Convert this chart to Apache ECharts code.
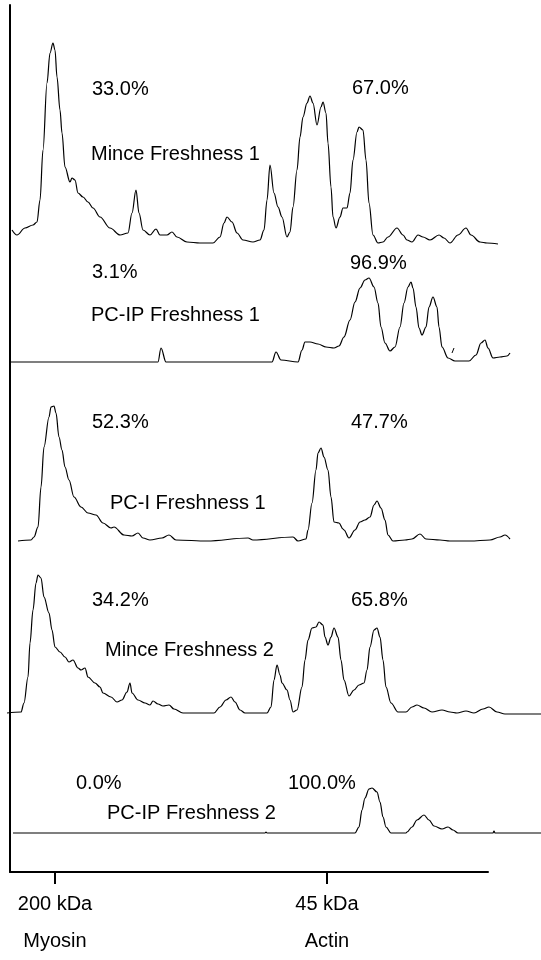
<!DOCTYPE html>
<html>
<head>
<meta charset="utf-8">
<script src="https://cdn.jsdelivr.net/npm/echarts@6/dist/echarts.min.js"></script>
<style>html,body{margin:0;padding:0;background:#fff}#chart{width:541px;height:960px}</style>
</head>
<body>
<div id="chart"></div>
<script>
// ---- data: densitometric traces, [mobility, intensity] ----
const sampleNames = ['Mince Freshness 1', 'PC-IP Freshness 1', 'PC-I Freshness 1', 'Mince Freshness 2', 'PC-IP Freshness 2'];
const myosinPct = ['33.0%', '3.1%', '52.3%', '34.2%', '0.0%'];
const actinPct = ['67.0%', '96.9%', '47.7%', '65.8%', '100.0%'];
const markerMobility = [55, 327];
const markerKda = ['200 kDa', '45 kDa'];
const markerProtein = ['Myosin', 'Actin'];

const minceF1 = [[12,13],[17,8],[25,15],[33,18],[37,21],[40,43],[43,93],[47,160],[50,190],[53,200],[55,193],[57,166],[60,133],[62,110],[65,76],[70,61],[72,65],[75,63],[78,50],[83,46],[88,41],[93,35],[100,26],[110,15],[120,8],[128,10],[132,30],[136,53],[139,30],[143,13],[150,8],[156,14],[160,8],[167,8],[172,11],[177,6],[187,1],[200,0],[213,0],[220,6],[224,20],[227,26],[232,21],[237,10],[243,3],[253,1],[260,3],[264,13],[267,43],[270,78],[274,50],[278,36],[282,26],[287,6],[290,11],[293,36],[297,73],[300,106],[303,126],[307,140],[310,147],[313,140],[317,118],[321,136],[323,141],[326,130],[328,100],[331,56],[333,26],[336,15],[340,26],[343,35],[347,35],[350,50],[353,83],[357,111],[359,116],[363,113],[366,83],[369,40],[373,8],[378,0],[383,1],[388,6],[397,15],[403,8],[407,3],[412,1],[418,8],[423,6],[430,3],[439,8],[444,5],[450,0],[458,8],[466,15],[471,8],[480,1],[487,0],[498,-1]];
const pcipF1 = [[10,0],[158,0],[161,14],[166,0],[272,0],[276,10],[281,2],[298,0],[302,12],[305,20],[310,20],[318,18],[326,15],[334,14],[339,16],[344,25],[350,42],[355,60],[360,74],[365,82],[369,84],[374,75],[378,59],[381,35],[385,19],[390,11],[395,15],[400,35],[404,59],[408,75],[411,80],[413,74],[416,55],[419,34],[422,27],[426,35],[429,55],[433,65],[437,55],[439,35],[442,15],[448,4],[455,1],[469,1],[476,7],[481,19],[485,22],[488,14],[493,4],[500,5],[507,6],[510,9]];
const pcipF1Mark = [[452,9],[454,14]];
const pciF1 = [[18,0],[31,1],[34,4],[38,14],[41,54],[44,94],[49,124],[51,134],[54,135],[56,128],[59,104],[62,91],[65,74],[69,61],[74,44],[81,34],[88,28],[96,26],[103,18],[111,13],[114,14],[124,6],[132,5],[138,8],[143,3],[150,1],[162,3],[169,6],[176,1],[207,0],[248,3],[253,1],[293,4],[298,0],[306,2],[308,11],[312,38],[316,71],[318,88],[321,93],[324,84],[328,71],[331,44],[334,19],[339,18],[343,12],[344,11],[349,3],[355,11],[360,19],[365,21],[370,24],[374,36],[377,40],[381,33],[385,21],[388,6],[393,0],[405,1],[412,2],[420,7],[426,2],[440,1],[450,0],[470,0],[490,1],[500,4],[505,6],[510,2]];
const minceF2 = [[7,0],[21,1],[24,10],[28,36],[30,70],[33,103],[36,130],[38,138],[41,135],[44,116],[49,100],[52,83],[55,66],[60,61],[65,56],[69,51],[73,53],[78,45],[81,43],[85,45],[88,36],[95,30],[100,26],[103,20],[111,16],[117,11],[122,13],[127,21],[130,30],[132,20],[138,13],[145,10],[150,8],[153,12],[158,9],[163,7],[169,8],[174,4],[183,0],[214,0],[220,6],[226,13],[231,16],[235,11],[240,3],[245,0],[267,0],[271,6],[274,33],[277,48],[280,38],[282,30],[287,23],[290,13],[293,1],[297,3],[302,26],[305,53],[308,73],[312,85],[316,86],[319,91],[323,88],[325,76],[328,68],[331,76],[334,85],[338,76],[341,53],[344,33],[349,17],[354,23],[359,28],[364,30],[367,43],[370,66],[374,83],[377,85],[380,76],[383,53],[386,26],[391,10],[398,1],[406,1],[412,6],[417,8],[424,5],[432,1],[442,3],[450,1],[457,0],[466,2],[474,0],[483,4],[489,6],[497,1],[505,-1],[541,-1]];
const pcipF2 = [[13,0],[265,0],[266,1],[267,0],[355,0],[359,6],[362,23],[365,35],[369,44],[372,45],[377,41],[380,31],[383,16],[386,6],[391,0],[406,0],[407,1],[412,6],[417,13],[424,18],[429,13],[434,7],[442,4],[448,6],[453,3],[458,0],[493,0],[494,2],[495,0],[541,0]];

const traces = [minceF1, pcipF1, pciF1, minceF2, pcipF2];

// ---- layout ----
const W = 541;
const baselines = [243, 362, 541, 713, 833];
const yMin = -30, yMax = 210;
const axisLeft = 10, axisRight = 488, axisTop = 5, axisBottom = 878;
const FONT = '"Liberation Sans", Arial, sans-serif';

const grids = [{left: axisLeft, top: axisTop, width: axisRight - axisLeft, height: axisBottom - axisTop}];
const xAxes = [{
  gridIndex: 0, type: 'value', min: axisLeft, max: axisRight,
  axisLine: {show: true, onZero: false, lineStyle: {color: '#000', width: 2}},
  axisTick: {show: true, length: 12, lineStyle: {color: '#000', width: 2}, customValues: markerMobility},
  axisLabel: {show: true, customValues: markerMobility, margin: 14, color: '#000', fontFamily: FONT, fontSize: 20, lineHeight: 37,
    formatter: v => { const i = markerMobility.indexOf(v); return i < 0 ? '' : markerKda[i] + '\n' + markerProtein[i]; }},
  splitLine: {show: false}
}];
const yAxes = [{
  gridIndex: 0, type: 'value', min: 0, max: 1,
  axisLine: {show: true, lineStyle: {color: '#000', width: 2}},
  axisTick: {show: false}, axisLabel: {show: false}, splitLine: {show: false}
}];
const series = [];

traces.forEach((tr, i) => {
  const gi = i + 1;
  grids.push({left: 0, width: W, top: baselines[i] - yMax, height: yMax - yMin});
  xAxes.push({gridIndex: gi, type: 'value', min: 0, max: W, show: false, splitLine: {show: false}});
  yAxes.push({gridIndex: gi, type: 'value', min: yMin, max: yMax, show: false, splitLine: {show: false}});
  series.push({
    type: 'line', xAxisIndex: gi, yAxisIndex: gi, data: tr, showSymbol: false, symbol: 'none',
    smooth: 0.35, smoothMonotone: 'x', lineStyle: {color: '#000', width: 1.2}, silent: true, animation: false
  });
});
series.push({
  type: 'line', xAxisIndex: 2, yAxisIndex: 2, data: pcipF1Mark, showSymbol: false, symbol: 'none',
  lineStyle: {color: '#000', width: 1}, silent: true, animation: false
});

const nameX = [91, 91, 110, 105, 107];
const nameY = [154, 315, 503, 650, 813];
const myoX = [92, 92, 92, 92, 76];
const pctY = [89, 272, 422, 600, 783];
const actX = [352, 350, 351, 351, 288];
const actY = [88, 263, 422, 600, 783];

const graphic = [];
const txt = (t, x, y) => ({type: 'text', x: x, y: y, silent: true,
  style: {text: t, font: '20px ' + FONT, fill: '#000', align: 'left', verticalAlign: 'middle'}});
for (let i = 0; i < 5; i++) {
  graphic.push(txt(sampleNames[i], nameX[i], nameY[i]));
  graphic.push(txt(myosinPct[i], myoX[i], pctY[i]));
  graphic.push(txt(actinPct[i], actX[i], actY[i]));
}

const chart = echarts.init(document.getElementById('chart'), null, {renderer: 'canvas'});
chart.setOption({
  animation: false,
  backgroundColor: '#fff',
  grid: grids, xAxis: xAxes, yAxis: yAxes, series: series, graphic: graphic
});
</script>
</body>
</html>
